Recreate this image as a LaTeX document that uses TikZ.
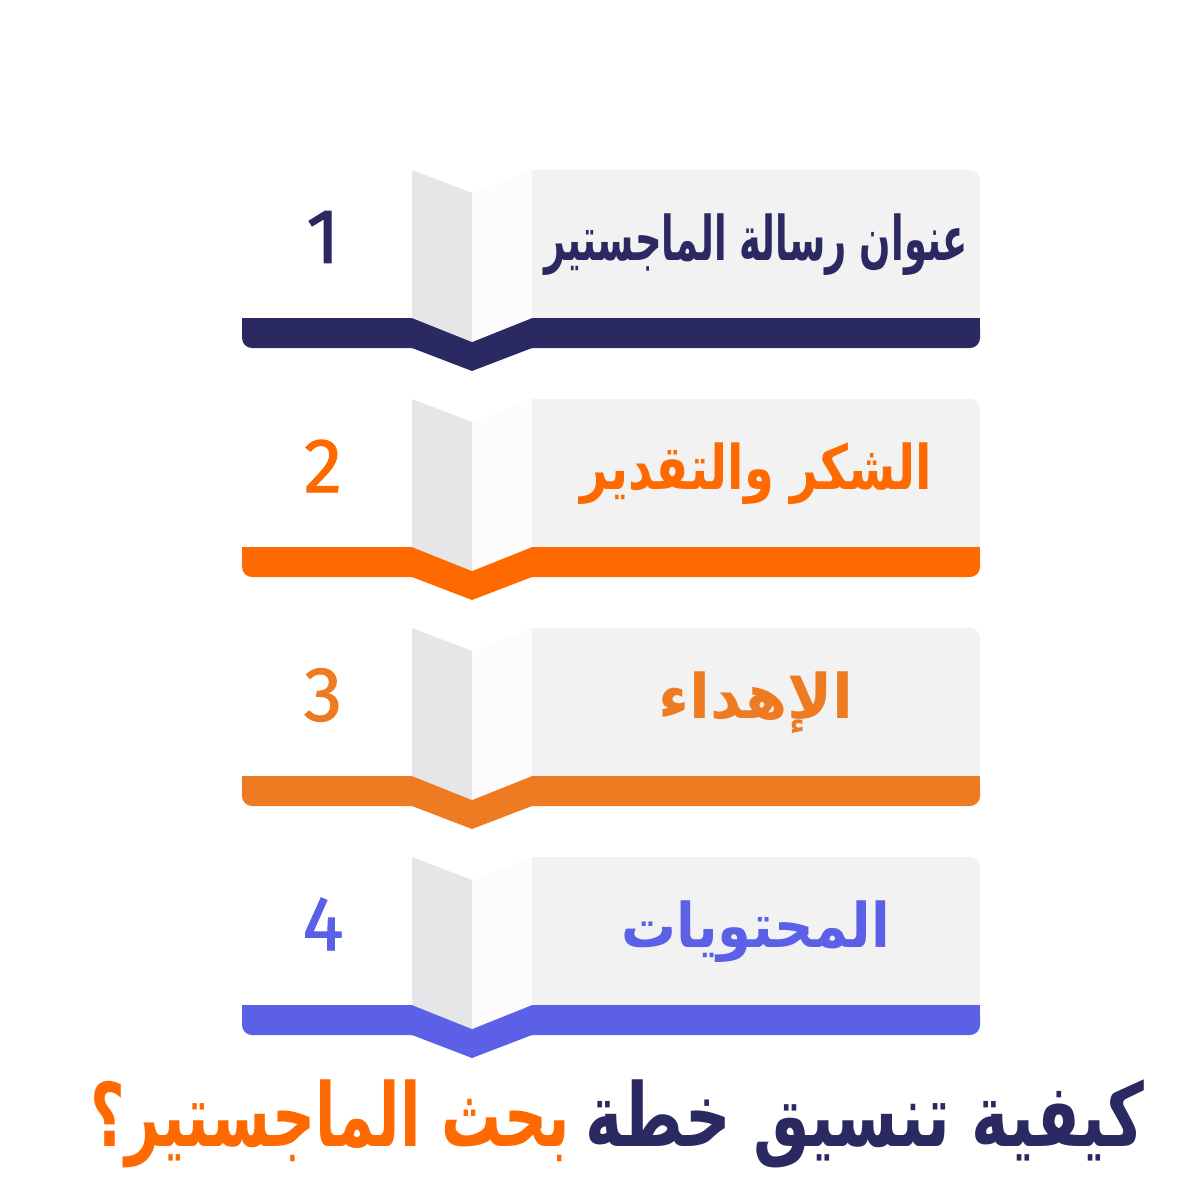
\documentclass[tikz,border=0pt]{standalone}
\usepackage{fontspec}
\usepackage{xcolor}
\usepackage{graphicx}
\usetikzlibrary{positioning}
\TeXXeTstate=1
\setmainfont{Fira Sans}
\newfontfamily\numfont{Fira Sans}[FakeBold=1.2]
\newfontfamily\arabicfont[Script=Arabic]{DejaVu Sans}

\definecolor{navy}{HTML}{2B2961}
\definecolor{orangeA}{HTML}{FF6A00}
\definecolor{orangeB}{HTML}{EE7A22}
\definecolor{periwinkle}{HTML}{5B60E6}
\definecolor{panelgray}{HTML}{F2F2F3}
\definecolor{flapleft}{HTML}{E6E6E9}
\definecolor{flapright}{HTML}{FDFBFB}

\begin{document}
\begin{tikzpicture}[x=0.1mm,y=-0.1mm,
  numtext/.style={font=\numfont\fontsize{22}{22}\selectfont},
  cardtext/.style={font=\arabicfont\bfseries\fontsize{17.5}{20}\selectfont},
  titletext/.style={font=\arabicfont\bfseries\fontsize{25}{30}\selectfont, inner sep=0pt}]
  \useasboundingbox (0,0) rectangle (1200,1200);

  \foreach \i/\col/\sx/\txt in {1/navy/0.6/{عنوان رسالة الماجستير},
                                2/orangeA/0.78/{الشكر والتقدير},
                                3/orangeB/0.99/{الإهداء},
                                4/periwinkle/0.89/{المحتويات}} {
    \begin{scope}[shift={(0,{(\i-1)*229})}]
      % Panel
      \fill[panelgray, rounded corners=1mm] (532,170) rectangle (980,330);
      \fill[panelgray] (532,170) rectangle (900,330);

      % Bar with notch
      \fill[\col, rounded corners=1mm] (242,318) rectangle (980,348);
      \fill[\col] (242,318) rectangle (980,333);
      \fill[\col] (412,340) -- (532,340) -- (532,348) -- (472,371) -- (412,348) -- cycle;

      % Folded flaps
      \fill[flapleft] (412,170) -- (472,193) -- (472,342) -- (412,318) -- cycle;
      \fill[flapright] (472,193) -- (532,170) -- (532,318) -- (472,342) -- cycle;

      % Number and label
      \node[numtext, text=\col] (num\i) at (323,237) {\i};
      \node[cardtext, text=\col] (label\i) at (756,245) {\scalebox{\sx}[1]{\beginR\txt\endR}};
    \end{scope}
  }

  % Title
  \node[titletext, text=navy, anchor=east] (titleright) at (1145,1124) {\scalebox{0.72}[1]{\beginR كيفية تنسيق خطة\endR}};
  \node[titletext, text=orangeA, left=14 of titleright] (titleleft) {\scalebox{0.68}[1]{\beginR بحث الماجستير؟\endR}};

\end{tikzpicture}
\end{document}
